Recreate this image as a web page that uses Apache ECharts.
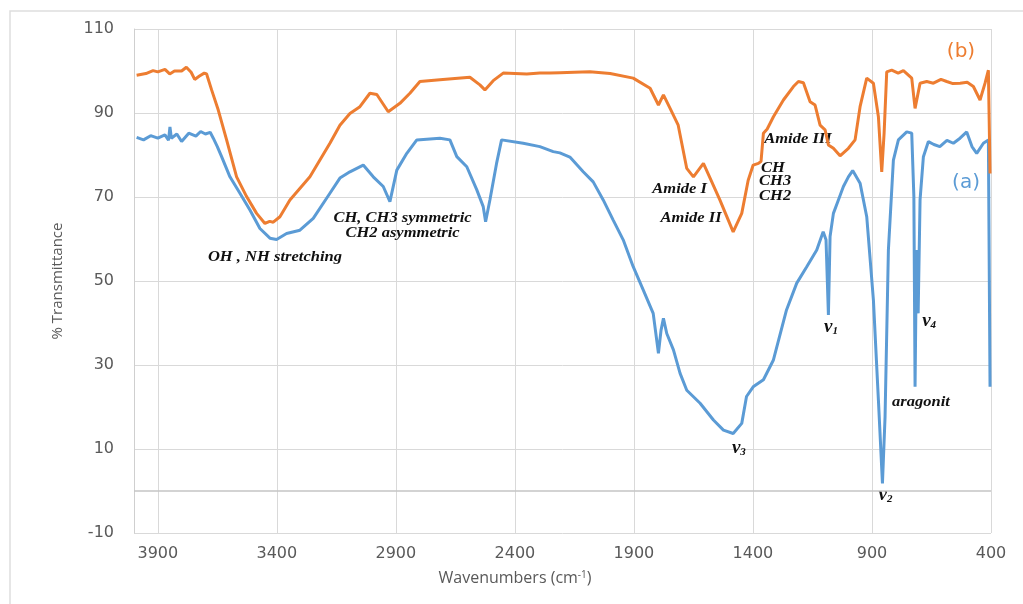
<!DOCTYPE html>
<html>
<head>
<meta charset="utf-8">
<script src="https://cdn.jsdelivr.net/npm/echarts@6/dist/echarts.min.js"></script>
<style>
html,body{margin:0;padding:0;background:#fff;}
#chart{width:1023px;height:604px;}
</style>
</head>
<body>
<div id="chart"></div>
<script>
// ---- Data ----
// Spectrum (b): orange
const bWave = [3989,3950,3920,3900,3870,3850,3830,3800,3780,3760,3745,3725,3705,3695,3674,3646,3611,3569,3527,3485,3450,3430,3415,3387,3345,3261,3177,3135,3093,3051,3009,2980,2932,2883,2841,2799,2715,2589,2547,2526,2491,2449,2400,2350,2295,2253,2211,2150,2085,2000,1903,1832,1797,1776,1748,1714,1678,1650,1608,1580,1539,1483,1447,1420,1399,1377,1366,1356,1340,1314,1272,1230,1209,1188,1160,1139,1118,1097,1083,1062,1034,999,971,950,922,894,873,859,849,838,817,790,768,733,719,698,670,642,610,586,560,530,500,474,446,425,411,404];
const bTrans = [99.0,99.4,100.1,99.8,100.4,99.3,100.0,100.0,100.9,99.7,98.0,98.8,99.5,99.3,95.5,90.7,83.6,74.8,70.1,66.1,63.7,64.2,64.0,65.3,69.3,74.8,82.8,87.1,89.9,91.5,94.7,94.4,90.3,92.3,94.7,97.5,97.9,98.5,96.7,95.5,97.7,99.5,99.4,99.3,99.5,99.5,99.6,99.7,99.8,99.4,98.3,95.9,91.9,94.3,91.1,87.1,76.8,74.8,78.0,74.5,69.3,61.7,66.1,74.0,77.6,78.0,78.5,85.2,86.2,89.1,93.1,96.3,97.5,97.2,92.7,91.9,87.1,86.0,82.4,81.6,79.8,81.6,83.6,91.5,98.3,97.1,89.1,76.0,85.2,99.8,100.2,99.5,100.1,98.3,91.1,97.1,97.5,97.1,98.0,97.5,97.0,97.1,97.3,96.3,93.1,97.1,100.2,75.6];
// Spectrum (a): blue
const aWave = [3989,3960,3930,3900,3870,3855,3849,3843,3820,3800,3770,3740,3720,3700,3680,3667,3650,3632,3597,3555,3513,3471,3429,3401,3359,3303,3247,3177,3135,3093,3037,2995,2953,2925,2896,2854,2812,2715,2673,2644,2602,2560,2533,2523,2505,2477,2456,2365,2295,2239,2211,2169,2113,2071,2029,1987,1945,1903,1861,1819,1797,1786,1776,1762,1734,1706,1678,1622,1566,1524,1483,1447,1427,1399,1356,1314,1259,1216,1174,1132,1105,1093,1083,1076,1062,1041,1020,999,981,950,922,894,873,856,845,831,810,789,754,733,724,719,713,706,698,684,663,640,615,585,558,530,502,480,460,432,411,404];
const aTrans = [84.2,83.6,84.6,84.0,84.8,83.5,86.7,84.0,85.0,83.2,85.2,84.5,85.6,85.0,85.4,84.0,82.0,79.6,74.8,70.9,66.9,62.5,60.2,59.9,61.3,62.1,64.9,70.9,74.5,76.0,77.6,74.8,72.5,68.9,76.4,80.4,83.6,84.0,83.6,79.6,77.2,71.7,67.7,64.1,69.3,78.0,83.6,82.8,82.0,80.8,80.5,79.5,76.0,73.6,69.3,64.5,59.8,53.4,47.9,42.3,32.8,38.3,41.1,37.5,33.6,28.0,24.0,20.9,16.9,14.5,13.7,16.1,22.5,24.8,26.5,31.2,43.1,49.5,53.4,57.4,61.7,59.8,41.9,60.6,66.1,69.3,72.5,74.8,76.3,73.3,65.3,45.5,21.7,1.8,17.7,57.4,78.8,83.6,85.5,85.2,70.1,24.8,57.4,42.3,69.3,79.6,83.2,82.5,82.0,83.5,82.8,84.0,85.5,82.0,80.4,82.8,83.6,24.8];
// Axis ticks
const xMin = 400, xMax = 4000, xStep = 500;
const yMin = -10, yMax = 110, yStep = 20;
// Annotations
const noteTexts  = ['OH , NH stretching','CH, CH3 symmetric','CH2 asymmetric','Amide I','Amide II','Amide III','CH','CH3','CH2','aragonit'];
const noteWave   = [3408,2872,2872,1708,1660,1211,1316,1307,1307,694];
const noteTrans  = [55.7,65.0,61.4,71.9,64.8,83.8,76.9,73.6,70.2,21.0];
const nuSubs  = ['1','4','3','2'];
const nuWave  = [1072,660,1459,843];
const nuTrans = [39.0,40.5,10.2,-1.0];
const seriesNames = ['(b)','(a)'];
const seriesLabelWave = [526,505];
const seriesLabelTrans = [104.5,73.3];

const ORANGE = '#ED7D31', BLUE = '#5B9BD5';
const chart = echarts.init(document.getElementById('chart'), null, {renderer:'canvas'});
const pairs = (w, t) => w.map((x, i) => [x, t[i]]);

const option = {
  animation: false,
  grid: {left:134, right:32, top:29, bottom:71},
  xAxis: {
    type:'value', inverse:true, min:xMin, max:xMax, interval:xStep,
    axisLine:{show:false}, axisTick:{show:false},
    axisLabel:{formatter: v => (v === xMax ? '' : String(v)), color:'#595959', fontSize:16, fontFamily:'DejaVu Sans', margin:13},
    splitLine:{show:true, lineStyle:{color:'#d9d9d9', width:1}}
  },
  yAxis: {
    type:'value', min:yMin, max:yMax, interval:yStep,
    axisLine:{show:true, lineStyle:{color:'#cfcfcf', width:1}}, axisTick:{show:false},
    axisLabel:{color:'#595959', fontSize:16, fontFamily:'DejaVu Sans', margin:20},
    splitLine:{show:true, lineStyle:{color:'#d9d9d9', width:1}}
  },
  series: [
    {name:seriesNames[1], type:'line', data:pairs(aWave, aTrans), showSymbol:false, symbol:'none',
     lineStyle:{color:BLUE, width:3}, itemStyle:{color:BLUE},
     markLine:{silent:true, symbol:'none', label:{show:false}, lineStyle:{color:'#c4c4c4', width:1.5, type:'solid'}, data:[{yAxis:0}]}},
    {name:seriesNames[0], type:'line', data:pairs(bWave, bTrans), showSymbol:false, symbol:'none',
     lineStyle:{color:ORANGE, width:3}, itemStyle:{color:ORANGE}}
  ]
};
chart.setOption(option);

const px = (w, t) => chart.convertToPixel({xAxisIndex:0, yAxisIndex:0}, [w, t]);
const graphics = [];
graphics.push({type:'rect', shape:{x:10, y:11, width:1100, height:700}, style:{fill:'none', stroke:'#dedede', lineWidth:1.5}, silent:true, z:-1});
noteTexts.forEach((t, i) => {
  const p = px(noteWave[i], noteTrans[i]);
  graphics.push({type:'text', x:p[0], y:p[1], scaleX:1.18, style:{text:t, fill:'#111', font:'italic bold 14px "Liberation Serif"', align:'center', verticalAlign:'middle'}});
});
nuSubs.forEach((s, i) => {
  const p = px(nuWave[i], nuTrans[i]);
  graphics.push({type:'text', x:p[0], y:p[1], style:{text:'{v|ν}{s|' + s + '}', align:'center', verticalAlign:'middle',
    rich:{v:{fontFamily:'Liberation Serif', fontStyle:'italic', fontWeight:'bold', fontSize:19, fill:'#111', verticalAlign:'bottom'},
          s:{fontFamily:'Liberation Serif', fontStyle:'italic', fontWeight:'bold', fontSize:11, fill:'#111', verticalAlign:'bottom'}}}});
});
const sColors = [ORANGE, BLUE];
seriesNames.forEach((n, i) => {
  const p = px(seriesLabelWave[i], seriesLabelTrans[i]);
  graphics.push({type:'text', x:p[0], y:p[1], style:{text:n, fill:sColors[i], font:'20px "DejaVu Sans"', align:'center', verticalAlign:'middle'}});
});
// axis titles
graphics.push({type:'text', x:58, y:281, rotation:Math.PI/2, style:{text:'% Transmittance', fill:'#595959', font:'15px "Open Sans"', align:'center', verticalAlign:'middle'}});
graphics.push({type:'text', x:515, y:578, style:{text:'{a|Wavenumbers (cm}{b|-1}{a|)}', align:'center', verticalAlign:'middle',
  rich:{a:{fontFamily:'Open Sans', fontSize:16, fill:'#595959', verticalAlign:'middle'}, b:{fontFamily:'Open Sans', fontSize:10, fill:'#595959', verticalAlign:'top'}}}});
chart.setOption({graphic:{elements:graphics}});
</script>
</body>
</html>
